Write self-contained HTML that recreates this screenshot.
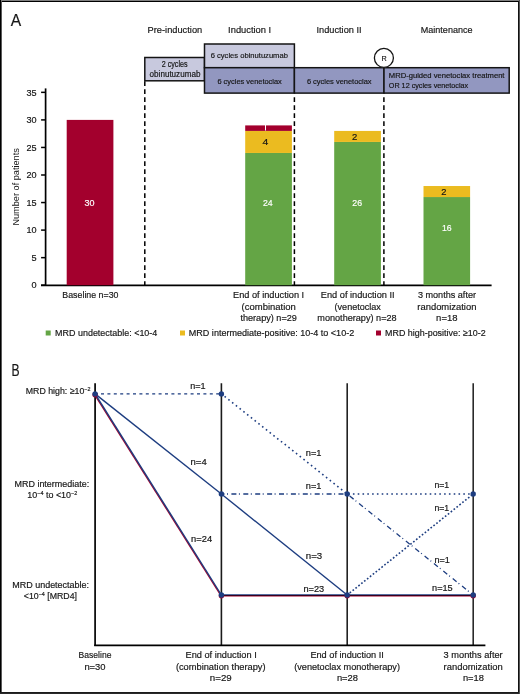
<!DOCTYPE html>
<html><head><meta charset="utf-8"><style>
html,body{margin:0;padding:0;background:#fff;}
body{width:520px;height:694px;overflow:hidden;position:relative;}
svg{position:absolute;left:0;top:0;font-family:"Liberation Sans", sans-serif;will-change:transform;}
.f{position:absolute;}
</style></head><body>
<svg width="520" height="694" viewBox="0 0 520 694">
<text x="15.88" y="25.70" font-size="17.4" fill="#161616" text-anchor="middle" textLength="10.44" lengthAdjust="spacingAndGlyphs" stroke="#161616" stroke-width="0.18">A</text>
<text x="174.90" y="33.10" font-size="9.8" fill="#161616" text-anchor="middle" textLength="54.60" lengthAdjust="spacingAndGlyphs" stroke="#161616" stroke-width="0.18">Pre-induction</text>
<text x="249.65" y="33.10" font-size="9.8" fill="#161616" text-anchor="middle" textLength="43.10" lengthAdjust="spacingAndGlyphs" stroke="#161616" stroke-width="0.18">Induction I</text>
<text x="339.05" y="33.10" font-size="9.8" fill="#161616" text-anchor="middle" textLength="45.10" lengthAdjust="spacingAndGlyphs" stroke="#161616" stroke-width="0.18">Induction II</text>
<text x="446.65" y="33.10" font-size="9.8" fill="#161616" text-anchor="middle" textLength="51.70" lengthAdjust="spacingAndGlyphs" stroke="#161616" stroke-width="0.18">Maintenance</text>
<rect x="144.80" y="57.50" width="59.70" height="23.30" fill="#c8c9de" stroke="#141414" stroke-width="1.5"/>
<rect x="204.50" y="44.00" width="89.90" height="23.70" fill="#c8c9de" stroke="#141414" stroke-width="1.5"/>
<rect x="204.50" y="67.70" width="89.90" height="25.40" fill="#9297c0" stroke="#141414" stroke-width="1.5"/>
<rect x="294.40" y="67.70" width="89.60" height="25.40" fill="#9297c0" stroke="#141414" stroke-width="1.5"/>
<rect x="384.00" y="67.70" width="125.20" height="25.40" fill="#9297c0" stroke="#141414" stroke-width="1.5"/>
<text x="174.65" y="66.80" font-size="8.5" fill="#161616" text-anchor="middle" textLength="25.90" lengthAdjust="spacingAndGlyphs" stroke="#161616" stroke-width="0.18">2 cycles</text>
<text x="175.00" y="76.50" font-size="8.5" fill="#161616" text-anchor="middle" textLength="50.80" lengthAdjust="spacingAndGlyphs" stroke="#161616" stroke-width="0.18">obinutuzumab</text>
<text x="249.30" y="58.00" font-size="7.8" fill="#161616" text-anchor="middle" textLength="77.20" lengthAdjust="spacingAndGlyphs" stroke="#161616" stroke-width="0.18">6 cycles obinutuzumab</text>
<text x="249.60" y="83.60" font-size="7.8" fill="#161616" text-anchor="middle" textLength="64.40" lengthAdjust="spacingAndGlyphs" stroke="#161616" stroke-width="0.18">6 cycles venetoclax</text>
<text x="339.25" y="83.60" font-size="7.8" fill="#161616" text-anchor="middle" textLength="64.70" lengthAdjust="spacingAndGlyphs" stroke="#161616" stroke-width="0.18">6 cycles venetoclax</text>
<text x="446.65" y="78.40" font-size="7.5" fill="#161616" text-anchor="middle" textLength="115.70" lengthAdjust="spacingAndGlyphs" stroke="#161616" stroke-width="0.18">MRD-guided venetoclax treatment</text>
<text x="428.50" y="87.80" font-size="7.5" fill="#161616" text-anchor="middle" textLength="79.40" lengthAdjust="spacingAndGlyphs" stroke="#161616" stroke-width="0.18">OR 12 cycles venetoclax</text>
<circle cx="383.9" cy="57.9" r="9.5" fill="#fff" stroke="#141414" stroke-width="1.3"/>
<text x="384.10" y="60.80" font-size="7.5" fill="#161616" text-anchor="middle" textLength="5.20" lengthAdjust="spacingAndGlyphs" stroke="#161616" stroke-width="0.18">R</text>
<line x1="144.8" y1="81.2" x2="144.8" y2="285" stroke="#000" stroke-width="1.5" stroke-linecap="butt" stroke-dasharray="4.8 3.2"/>
<line x1="294.4" y1="97.2" x2="294.4" y2="285" stroke="#000" stroke-width="1.5" stroke-linecap="butt" stroke-dasharray="4.8 3.2"/>
<line x1="383.9" y1="97.2" x2="383.9" y2="285" stroke="#000" stroke-width="1.5" stroke-linecap="butt" stroke-dasharray="4.8 3.2"/>
<line x1="45.6" y1="88.4" x2="45.6" y2="286.0" stroke="#000" stroke-width="1.7" stroke-linecap="butt"/>
<line x1="41.0" y1="285.3" x2="491.6" y2="285.3" stroke="#000" stroke-width="1.7" stroke-linecap="butt"/>
<line x1="41.1" y1="285.2" x2="45.6" y2="285.2" stroke="#000" stroke-width="1.5" stroke-linecap="butt"/>
<text x="34.05" y="288.35" font-size="9.0" fill="#161616" text-anchor="middle" textLength="5.10" lengthAdjust="spacingAndGlyphs" stroke="#161616" stroke-width="0.18">0</text>
<line x1="41.1" y1="257.65" x2="45.6" y2="257.65" stroke="#000" stroke-width="1.5" stroke-linecap="butt"/>
<text x="34.05" y="260.80" font-size="9.0" fill="#161616" text-anchor="middle" textLength="5.10" lengthAdjust="spacingAndGlyphs" stroke="#161616" stroke-width="0.18">5</text>
<line x1="41.1" y1="230.1" x2="45.6" y2="230.1" stroke="#000" stroke-width="1.5" stroke-linecap="butt"/>
<text x="31.55" y="233.25" font-size="9.0" fill="#161616" text-anchor="middle" textLength="10.10" lengthAdjust="spacingAndGlyphs" stroke="#161616" stroke-width="0.18">10</text>
<line x1="41.1" y1="202.55" x2="45.6" y2="202.55" stroke="#000" stroke-width="1.5" stroke-linecap="butt"/>
<text x="31.55" y="205.70" font-size="9.0" fill="#161616" text-anchor="middle" textLength="10.10" lengthAdjust="spacingAndGlyphs" stroke="#161616" stroke-width="0.18">15</text>
<line x1="41.1" y1="175.0" x2="45.6" y2="175.0" stroke="#000" stroke-width="1.5" stroke-linecap="butt"/>
<text x="31.55" y="178.15" font-size="9.0" fill="#161616" text-anchor="middle" textLength="10.10" lengthAdjust="spacingAndGlyphs" stroke="#161616" stroke-width="0.18">20</text>
<line x1="41.1" y1="147.45" x2="45.6" y2="147.45" stroke="#000" stroke-width="1.5" stroke-linecap="butt"/>
<text x="31.55" y="150.60" font-size="9.0" fill="#161616" text-anchor="middle" textLength="10.10" lengthAdjust="spacingAndGlyphs" stroke="#161616" stroke-width="0.18">25</text>
<line x1="41.1" y1="119.9" x2="45.6" y2="119.9" stroke="#000" stroke-width="1.5" stroke-linecap="butt"/>
<text x="31.55" y="123.05" font-size="9.0" fill="#161616" text-anchor="middle" textLength="10.10" lengthAdjust="spacingAndGlyphs" stroke="#161616" stroke-width="0.18">30</text>
<line x1="41.1" y1="92.35" x2="45.6" y2="92.35" stroke="#000" stroke-width="1.5" stroke-linecap="butt"/>
<text x="31.55" y="95.50" font-size="9.0" fill="#161616" text-anchor="middle" textLength="10.10" lengthAdjust="spacingAndGlyphs" stroke="#161616" stroke-width="0.18">35</text>
<text x="0" y="0" font-size="8.8" fill="#161616" text-anchor="middle" textLength="77.4" lengthAdjust="spacingAndGlyphs" transform="translate(19.0 186.9) rotate(-90)">Number of patients</text>
<rect x="66.70" y="119.90" width="46.70" height="165.30" fill="#a3002d"/>
<rect x="245.20" y="152.96" width="46.70" height="132.24" fill="#64a545"/>
<rect x="245.20" y="130.92" width="46.70" height="22.04" fill="#ebbb20"/>
<rect x="245.20" y="125.41" width="46.70" height="5.51" fill="#a3002d"/>
<rect x="265.00" y="124.91" width="1.00" height="5.60" fill="#fff"/>
<rect x="334.20" y="141.94" width="46.70" height="143.26" fill="#64a545"/>
<rect x="334.20" y="130.92" width="46.70" height="11.02" fill="#ebbb20"/>
<rect x="423.50" y="197.04" width="46.60" height="88.16" fill="#64a545"/>
<rect x="423.50" y="186.02" width="46.60" height="11.02" fill="#ebbb20"/>
<text x="89.40" y="205.90" font-size="9.4" fill="#fff" text-anchor="middle" textLength="10.00" lengthAdjust="spacingAndGlyphs" stroke="#fff" stroke-width="0.18">30</text>
<text x="267.85" y="205.90" font-size="9.4" fill="#fff" text-anchor="middle" textLength="9.70" lengthAdjust="spacingAndGlyphs" stroke="#fff" stroke-width="0.18">24</text>
<text x="265.30" y="145.00" font-size="9.4" fill="#161616" text-anchor="middle" textLength="5.80" lengthAdjust="spacingAndGlyphs" stroke="#161616" stroke-width="0.18">4</text>
<text x="357.20" y="206.10" font-size="9.4" fill="#fff" text-anchor="middle" textLength="9.80" lengthAdjust="spacingAndGlyphs" stroke="#fff" stroke-width="0.18">26</text>
<text x="354.55" y="140.00" font-size="9.4" fill="#161616" text-anchor="middle" textLength="5.30" lengthAdjust="spacingAndGlyphs" stroke="#161616" stroke-width="0.18">2</text>
<text x="446.75" y="230.70" font-size="9.4" fill="#fff" text-anchor="middle" textLength="9.70" lengthAdjust="spacingAndGlyphs" stroke="#fff" stroke-width="0.18">16</text>
<text x="443.90" y="194.80" font-size="9.4" fill="#161616" text-anchor="middle" textLength="5.20" lengthAdjust="spacingAndGlyphs" stroke="#161616" stroke-width="0.18">2</text>
<text x="90.40" y="298.30" font-size="9.6" fill="#161616" text-anchor="middle" textLength="56.20" lengthAdjust="spacingAndGlyphs" stroke="#161616" stroke-width="0.18">Baseline n=30</text>
<text x="268.60" y="298.30" font-size="9.6" fill="#161616" text-anchor="middle" textLength="71.00" lengthAdjust="spacingAndGlyphs" stroke="#161616" stroke-width="0.18">End of induction I</text>
<text x="268.70" y="309.50" font-size="9.6" fill="#161616" text-anchor="middle" textLength="54.20" lengthAdjust="spacingAndGlyphs" stroke="#161616" stroke-width="0.18">(combination</text>
<text x="268.65" y="320.80" font-size="9.6" fill="#161616" text-anchor="middle" textLength="56.50" lengthAdjust="spacingAndGlyphs" stroke="#161616" stroke-width="0.18">therapy) n=29</text>
<text x="357.70" y="298.30" font-size="9.6" fill="#161616" text-anchor="middle" textLength="73.80" lengthAdjust="spacingAndGlyphs" stroke="#161616" stroke-width="0.18">End of induction II</text>
<text x="357.70" y="309.50" font-size="9.6" fill="#161616" text-anchor="middle" textLength="46.20" lengthAdjust="spacingAndGlyphs" stroke="#161616" stroke-width="0.18">(venetoclax</text>
<text x="356.95" y="320.80" font-size="9.6" fill="#161616" text-anchor="middle" textLength="79.30" lengthAdjust="spacingAndGlyphs" stroke="#161616" stroke-width="0.18">monotherapy) n=28</text>
<text x="446.95" y="298.30" font-size="9.6" fill="#161616" text-anchor="middle" textLength="58.10" lengthAdjust="spacingAndGlyphs" stroke="#161616" stroke-width="0.18">3 months after</text>
<text x="446.85" y="309.50" font-size="9.6" fill="#161616" text-anchor="middle" textLength="59.10" lengthAdjust="spacingAndGlyphs" stroke="#161616" stroke-width="0.18">randomization</text>
<text x="446.80" y="320.80" font-size="9.6" fill="#161616" text-anchor="middle" textLength="21.40" lengthAdjust="spacingAndGlyphs" stroke="#161616" stroke-width="0.18">n=18</text>
<rect x="45.70" y="330.50" width="5.00" height="5.00" fill="#64a545"/>
<rect x="180.00" y="330.50" width="5.00" height="5.00" fill="#ebbb20"/>
<rect x="376.00" y="330.50" width="5.00" height="5.00" fill="#a3002d"/>
<text x="106.20" y="335.90" font-size="9.2" fill="#161616" text-anchor="middle" textLength="102.20" lengthAdjust="spacingAndGlyphs" stroke="#161616" stroke-width="0.18">MRD undetectable: &lt;10-4</text>
<text x="271.50" y="335.90" font-size="9.2" fill="#161616" text-anchor="middle" textLength="165.40" lengthAdjust="spacingAndGlyphs" stroke="#161616" stroke-width="0.18">MRD intermediate-positive: 10-4 to &lt;10-2</text>
<text x="435.35" y="335.90" font-size="9.2" fill="#161616" text-anchor="middle" textLength="100.50" lengthAdjust="spacingAndGlyphs" stroke="#161616" stroke-width="0.18">MRD high-positive: ≥10-2</text>
<text x="15.45" y="376.10" font-size="17.4" fill="#161616" text-anchor="middle" textLength="8.10" lengthAdjust="spacingAndGlyphs" stroke="#161616" stroke-width="0.18">B</text>
<line x1="95.1" y1="383.2" x2="95.1" y2="646.1" stroke="#111" stroke-width="1.8" stroke-linecap="butt"/>
<line x1="221.4" y1="383.2" x2="221.4" y2="646.1" stroke="#1a1a1a" stroke-width="1.6" stroke-linecap="butt"/>
<line x1="347.2" y1="383.2" x2="347.2" y2="646.1" stroke="#222" stroke-width="1.6" stroke-linecap="butt"/>
<line x1="473.2" y1="383.2" x2="473.2" y2="646.1" stroke="#2a2a2a" stroke-width="1.6" stroke-linecap="butt"/>
<line x1="94.2" y1="645.3" x2="485.4" y2="645.3" stroke="#000" stroke-width="1.8" stroke-linecap="butt"/>
<text x="58.10" y="394.20" font-size="9.2" fill="#161616" text-anchor="middle" textLength="64.60" lengthAdjust="spacingAndGlyphs" stroke="#161616" stroke-width="0.18">MRD high: ≥10<tspan dy="-3.6" font-size="5.6">−2</tspan></text>
<text x="51.85" y="486.90" font-size="9.2" fill="#161616" text-anchor="middle" textLength="74.70" lengthAdjust="spacingAndGlyphs" stroke="#161616" stroke-width="0.18">MRD intermediate:</text>
<text x="52.30" y="498.20" font-size="9.2" fill="#161616" text-anchor="middle" textLength="50.00" lengthAdjust="spacingAndGlyphs" stroke="#161616" stroke-width="0.18">10<tspan dy="-3.6" font-size="5.6">−4</tspan><tspan dy="3.6"> to &lt;10</tspan><tspan dy="-3.6" font-size="5.6">−2</tspan></text>
<text x="50.65" y="588.20" font-size="9.2" fill="#161616" text-anchor="middle" textLength="76.90" lengthAdjust="spacingAndGlyphs" stroke="#161616" stroke-width="0.18">MRD undetectable:</text>
<text x="50.40" y="599.40" font-size="9.2" fill="#161616" text-anchor="middle" textLength="53.20" lengthAdjust="spacingAndGlyphs" stroke="#161616" stroke-width="0.18">&lt;10<tspan dy="-3.6" font-size="5.6">−4</tspan><tspan dy="3.6"> [MRD4]</tspan></text>
<line x1="94.5" y1="394.27" x2="220.8" y2="595.37" stroke="#a3002d" stroke-width="1.4" stroke-linecap="butt"/>
<line x1="95.1" y1="393.9" x2="221.4" y2="393.9" stroke="#1d3d80" stroke-width="1.3" stroke-linecap="butt" stroke-dasharray="3.0 3.4" stroke-dashoffset="0.5"/>
<line x1="95.1" y1="393.9" x2="221.4" y2="494.0" stroke="#1d3d80" stroke-width="1.4" stroke-linecap="butt"/>
<line x1="95.1" y1="393.9" x2="221.4" y2="595.0" stroke="#1d3d80" stroke-width="1.4" stroke-linecap="butt"/>
<line x1="221.4" y1="393.9" x2="347.2" y2="494.0" stroke="#1d3d80" stroke-width="1.6" stroke-linecap="butt" stroke-dasharray="1.6 3.2" stroke-dashoffset="0.75"/>
<line x1="221.4" y1="494.0" x2="347.2" y2="494.0" stroke="#1d3d80" stroke-width="1.3" stroke-linecap="butt" stroke-dasharray="5.0 2.5 1.0 3.4" stroke-dashoffset="1.9"/>
<line x1="221.4" y1="494.0" x2="347.2" y2="595.0" stroke="#1d3d80" stroke-width="1.4" stroke-linecap="butt"/>
<line x1="221.4" y1="595.0" x2="473.2" y2="595.0" stroke="#1d3d80" stroke-width="1.4" stroke-linecap="butt"/>
<line x1="347.2" y1="494.0" x2="473.2" y2="494.0" stroke="#1d3d80" stroke-width="1.5" stroke-linecap="butt" stroke-dasharray="1.6 3.2" stroke-dashoffset="3.9"/>
<line x1="347.2" y1="494.0" x2="473.2" y2="595.0" stroke="#1d3d80" stroke-width="1.3" stroke-linecap="butt" stroke-dasharray="5.0 2.5 1.0 3.5" stroke-dashoffset="8.8"/>
<line x1="347.2" y1="595.0" x2="473.2" y2="494.0" stroke="#1d3d80" stroke-width="1.6" stroke-linecap="butt" stroke-dasharray="1.7 2.0" stroke-dashoffset="0.5"/>
<line x1="221.4" y1="595.8" x2="473.2" y2="595.8" stroke="#a3002d" stroke-width="1.4" stroke-linecap="butt" style="mix-blend-mode:multiply"/>
<circle cx="95.1" cy="394.7" r="2.7" fill="#a3002d"/>
<circle cx="95.1" cy="393.9" r="2.7" fill="#1d3d80"/>
<circle cx="221.4" cy="393.9" r="2.7" fill="#1d3d80"/>
<circle cx="221.4" cy="494.0" r="2.7" fill="#1d3d80"/>
<circle cx="221.4" cy="595.8" r="2.7" fill="#a3002d"/>
<circle cx="221.4" cy="595.0" r="2.7" fill="#1d3d80"/>
<circle cx="347.2" cy="494.0" r="2.7" fill="#1d3d80"/>
<circle cx="347.2" cy="595.8" r="2.7" fill="#a3002d"/>
<circle cx="347.2" cy="595.0" r="2.7" fill="#1d3d80"/>
<circle cx="473.2" cy="494.0" r="2.7" fill="#1d3d80"/>
<circle cx="473.2" cy="595.8" r="2.7" fill="#a3002d"/>
<circle cx="473.2" cy="595.0" r="2.7" fill="#1d3d80"/>
<text x="197.90" y="388.50" font-size="8.2" fill="#161616" text-anchor="middle" textLength="15.40" lengthAdjust="spacingAndGlyphs" stroke="#161616" stroke-width="0.18">n=1</text>
<text x="198.65" y="464.80" font-size="8.2" fill="#161616" text-anchor="middle" textLength="16.10" lengthAdjust="spacingAndGlyphs" stroke="#161616" stroke-width="0.18">n=4</text>
<text x="201.60" y="541.90" font-size="8.2" fill="#161616" text-anchor="middle" textLength="21.00" lengthAdjust="spacingAndGlyphs" stroke="#161616" stroke-width="0.18">n=24</text>
<text x="313.65" y="456.20" font-size="8.2" fill="#161616" text-anchor="middle" textLength="15.70" lengthAdjust="spacingAndGlyphs" stroke="#161616" stroke-width="0.18">n=1</text>
<text x="313.60" y="488.90" font-size="8.2" fill="#161616" text-anchor="middle" textLength="15.60" lengthAdjust="spacingAndGlyphs" stroke="#161616" stroke-width="0.18">n=1</text>
<text x="314.00" y="558.50" font-size="8.2" fill="#161616" text-anchor="middle" textLength="16.40" lengthAdjust="spacingAndGlyphs" stroke="#161616" stroke-width="0.18">n=3</text>
<text x="313.80" y="592.30" font-size="8.2" fill="#161616" text-anchor="middle" textLength="20.80" lengthAdjust="spacingAndGlyphs" stroke="#161616" stroke-width="0.18">n=23</text>
<text x="441.80" y="487.90" font-size="8.2" fill="#161616" text-anchor="middle" textLength="14.80" lengthAdjust="spacingAndGlyphs" stroke="#161616" stroke-width="0.18">n=1</text>
<text x="441.80" y="511.00" font-size="8.2" fill="#161616" text-anchor="middle" textLength="14.80" lengthAdjust="spacingAndGlyphs" stroke="#161616" stroke-width="0.18">n=1</text>
<text x="442.10" y="562.50" font-size="8.2" fill="#161616" text-anchor="middle" textLength="15.40" lengthAdjust="spacingAndGlyphs" stroke="#161616" stroke-width="0.18">n=1</text>
<text x="442.40" y="591.30" font-size="8.2" fill="#161616" text-anchor="middle" textLength="20.60" lengthAdjust="spacingAndGlyphs" stroke="#161616" stroke-width="0.18">n=15</text>
<text x="95.00" y="658.40" font-size="9.5" fill="#161616" text-anchor="middle" textLength="32.80" lengthAdjust="spacingAndGlyphs" stroke="#161616" stroke-width="0.18">Baseline</text>
<text x="95.00" y="669.90" font-size="9.5" fill="#161616" text-anchor="middle" textLength="21.20" lengthAdjust="spacingAndGlyphs" stroke="#161616" stroke-width="0.18">n=30</text>
<text x="221.10" y="658.40" font-size="9.5" fill="#161616" text-anchor="middle" textLength="71.20" lengthAdjust="spacingAndGlyphs" stroke="#161616" stroke-width="0.18">End of induction I</text>
<text x="220.75" y="669.60" font-size="9.5" fill="#161616" text-anchor="middle" textLength="89.70" lengthAdjust="spacingAndGlyphs" stroke="#161616" stroke-width="0.18">(combination therapy)</text>
<text x="220.75" y="681.00" font-size="9.5" fill="#161616" text-anchor="middle" textLength="21.90" lengthAdjust="spacingAndGlyphs" stroke="#161616" stroke-width="0.18">n=29</text>
<text x="347.15" y="658.40" font-size="9.5" fill="#161616" text-anchor="middle" textLength="73.50" lengthAdjust="spacingAndGlyphs" stroke="#161616" stroke-width="0.18">End of induction II</text>
<text x="347.10" y="669.60" font-size="9.5" fill="#161616" text-anchor="middle" textLength="105.80" lengthAdjust="spacingAndGlyphs" stroke="#161616" stroke-width="0.18">(venetoclax monotherapy)</text>
<text x="347.45" y="681.00" font-size="9.5" fill="#161616" text-anchor="middle" textLength="21.10" lengthAdjust="spacingAndGlyphs" stroke="#161616" stroke-width="0.18">n=28</text>
<text x="473.15" y="658.10" font-size="9.5" fill="#161616" text-anchor="middle" textLength="59.10" lengthAdjust="spacingAndGlyphs" stroke="#161616" stroke-width="0.18">3 months after</text>
<text x="473.15" y="669.60" font-size="9.5" fill="#161616" text-anchor="middle" textLength="59.10" lengthAdjust="spacingAndGlyphs" stroke="#161616" stroke-width="0.18">randomization</text>
<text x="473.40" y="680.80" font-size="9.5" fill="#161616" text-anchor="middle" textLength="21.00" lengthAdjust="spacingAndGlyphs" stroke="#161616" stroke-width="0.18">n=18</text>
</svg>
<div class="f" style="left:0;top:0;width:520px;height:1px;background:#808080"></div>
<div class="f" style="left:0;top:1px;width:520px;height:1px;background:#000"></div>
<div class="f" style="left:0;top:0;width:1px;height:694px;background:#000"></div>
<div class="f" style="left:1px;top:1px;width:1px;height:692px;background:#5a5a5a"></div>
<div class="f" style="left:518px;top:1px;width:1px;height:693px;background:#111"></div>
<div class="f" style="left:519px;top:0;width:1px;height:694px;background:#555"></div>
<div class="f" style="left:0;top:692px;width:519px;height:1px;background:#1c1c1c"></div>
<div class="f" style="left:0;top:693px;width:519px;height:1px;background:#2a2a2a"></div>
</body></html>
